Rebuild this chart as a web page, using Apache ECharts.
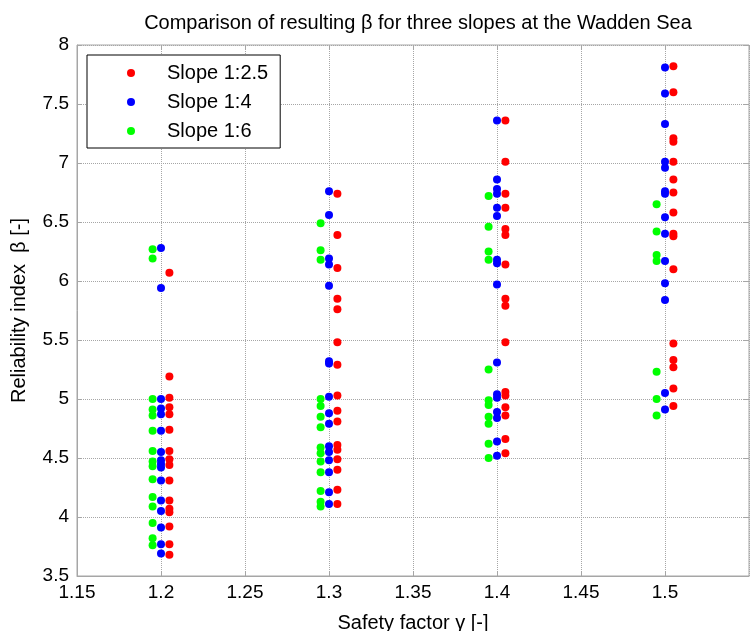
<!DOCTYPE html>
<html>
<head>
<meta charset="utf-8">
<script src="https://cdn.jsdelivr.net/npm/echarts@6/dist/echarts.min.js"></script>
<style>
  html, body { margin: 0; padding: 0; background: #fff; }
  #chart { width: 750px; height: 631px; }
</style>
</head>
<body>
<div id="chart"></div>
<script>
// safety factors on the x axis (each column)
const factors = [1.2, 1.3, 1.4, 1.5];

// reliability index beta per safety factor, one array per column
const slope25 = [
  [6.07, 5.19, 5.01, 4.93, 4.87, 4.74, 4.56, 4.49, 4.44, 4.31, 4.14, 4.07, 4.04, 3.92, 3.77, 3.68],
  [6.74, 6.39, 6.11, 5.85, 5.76, 5.48, 5.29, 5.03, 4.90, 4.81, 4.61, 4.57, 4.49, 4.40, 4.23, 4.11],
  [7.36, 7.01, 6.74, 6.62, 6.44, 6.39, 6.14, 5.85, 5.79, 5.48, 5.06, 5.03, 4.93, 4.86, 4.66, 4.54],
  [7.82, 7.60, 7.21, 7.18, 7.01, 6.86, 6.75, 6.58, 6.40, 6.38, 6.10, 5.47, 5.33, 5.27, 5.09, 4.94]
];
const slope4 = [
  [6.28, 5.94, 5.00, 4.92, 4.87, 4.73, 4.55, 4.48, 4.45, 4.42, 4.31, 4.14, 4.05, 3.91, 3.77, 3.69],
  [6.76, 6.56, 6.19, 6.14, 5.96, 5.32, 5.30, 5.02, 4.88, 4.79, 4.60, 4.55, 4.48, 4.38, 4.21, 4.11],
  [7.36, 6.86, 6.78, 6.74, 6.62, 6.55, 6.18, 6.15, 5.97, 5.31, 5.04, 5.01, 4.89, 4.84, 4.64, 4.52],
  [7.81, 7.59, 7.33, 7.01, 6.96, 6.76, 6.74, 6.54, 6.40, 6.17, 5.98, 5.84, 5.05, 4.91]
];
const slope6 = [
  [6.27, 6.19, 5.00, 4.91, 4.86, 4.73, 4.56, 4.47, 4.43, 4.32, 4.17, 4.09, 3.95, 3.82, 3.76],
  [6.49, 6.26, 6.18, 5.00, 4.94, 4.85, 4.76, 4.59, 4.54, 4.47, 4.38, 4.22, 4.13, 4.09],
  [6.72, 6.46, 6.25, 6.18, 5.25, 4.99, 4.95, 4.85, 4.79, 4.62, 4.50],
  [6.65, 6.42, 6.22, 6.17, 5.23, 5.00, 4.86]
];

const xTicks = ["1.15", "1.2", "1.25", "1.3", "1.35", "1.4", "1.45", "1.5"];
const yTicks = ["3.5", "4", "4.5", "5", "5.5", "6", "6.5", "7", "7.5", "8"];

const FONT = "Liberation Sans, Arial, sans-serif";
const GRID_COLOR = "#a6a6a6";

// small horizontal shift so the three slopes sit next to each other
function toPoints(cols, shift) {
  const out = [];
  cols.forEach((col, i) => {
    col.forEach((v) => out.push([factors[i] + shift, v]));
  });
  return out;
}

const chartDom = document.getElementById("chart");
const myChart = echarts.init(chartDom, null, { renderer: "canvas" });

const tickOnly = {
  axisLine: { show: false },
  axisTick: { show: true, inside: true, length: 5, lineStyle: { color: GRID_COLOR } },
  axisLabel: { show: false },
  splitLine: { show: false },
};

const option = {
  animation: false,
  backgroundColor: "#fff",
  title: {
    text: "Comparison of resulting \u03b2 for three slopes at the Wadden Sea",
    left: 413,
    top: 8,
    textAlign: "center",
    textStyle: { fontFamily: FONT, fontSize: 20, fontWeight: "normal", color: "#000" },
  },
  legend: {
    left: 87,
    top: 55,
    orient: "vertical",
    backgroundColor: "#fff",
    borderColor: "#000",
    borderWidth: 1,
    borderRadius: 0,
    padding: [8, 12, 7, 40],
    itemWidth: 62,
    itemHeight: 8,
    itemGap: 9,
    textStyle: { fontFamily: FONT, fontSize: 20, color: "#000", lineHeight: 20 },
    data: ["Slope 1:2.5", "Slope 1:4", "Slope 1:6"],
  },
  grid: {
    left: 77,
    right: 1,
    top: 45,
    bottom: 55,
    outerBoundsMode: "none",
    show: true,
    borderColor: GRID_COLOR,
    borderWidth: 1,
  },
  xAxis: [
    {
      type: "value",
      min: 1.15,
      max: 1.55,
      interval: 0.05,
      name: "Safety factor \u03b3 [-]",
      nameLocation: "middle",
      nameGap: 37,
      nameTextStyle: { fontFamily: FONT, fontSize: 20, color: "#000" },
      axisLine: { show: true, lineStyle: { color: GRID_COLOR } },
      axisTick: { show: true, inside: true, length: 5, lineStyle: { color: GRID_COLOR } },
      axisLabel: {
        fontFamily: FONT,
        fontSize: 19,
        color: "#000",
        margin: 7,
        showMaxLabel: false,
        formatter: (v) => xTicks.find((t) => Math.abs(parseFloat(t) - v) < 1e-6) || "",
      },
      splitLine: { show: true, lineStyle: { color: GRID_COLOR, type: "dotted", width: 1 } },
    },
    Object.assign({ type: "value", position: "top", min: 1.15, max: 1.55, interval: 0.05 }, tickOnly),
  ],
  yAxis: [
    {
      type: "value",
      min: 3.5,
      max: 8,
      interval: 0.5,
      name: "Reliability index  \u03b2 [-]",
      nameLocation: "middle",
      nameGap: 48,
      nameRotate: 90,
      nameTextStyle: { fontFamily: FONT, fontSize: 20, color: "#000" },
      axisLine: { show: true, lineStyle: { color: GRID_COLOR } },
      axisTick: { show: true, inside: true, length: 5, lineStyle: { color: GRID_COLOR } },
      axisLabel: {
        fontFamily: FONT,
        fontSize: 19,
        color: "#000",
        margin: 8,
        formatter: (v) => yTicks.find((t) => Math.abs(parseFloat(t) - v) < 1e-6) || "",
      },
      splitLine: { show: true, lineStyle: { color: GRID_COLOR, type: "dotted", width: 1 } },
    },
    Object.assign({ type: "value", position: "right", min: 3.5, max: 8, interval: 0.5 }, tickOnly),
  ],
  series: [
    {
      name: "Slope 1:2.5",
      type: "scatter",
      symbol: "circle",
      symbolSize: 8,
      itemStyle: { color: "#ff0000", opacity: 1 },
      data: toPoints(slope25, 0.005),
    },
    {
      name: "Slope 1:4",
      type: "scatter",
      symbol: "circle",
      symbolSize: 8,
      itemStyle: { color: "#0000ff", opacity: 1 },
      data: toPoints(slope4, 0),
    },
    {
      name: "Slope 1:6",
      type: "scatter",
      symbol: "circle",
      symbolSize: 8,
      itemStyle: { color: "#00ff00", opacity: 1 },
      data: toPoints(slope6, -0.005),
    },
  ],
};

option && myChart.setOption(option, true);
</script>
</body>
</html>
